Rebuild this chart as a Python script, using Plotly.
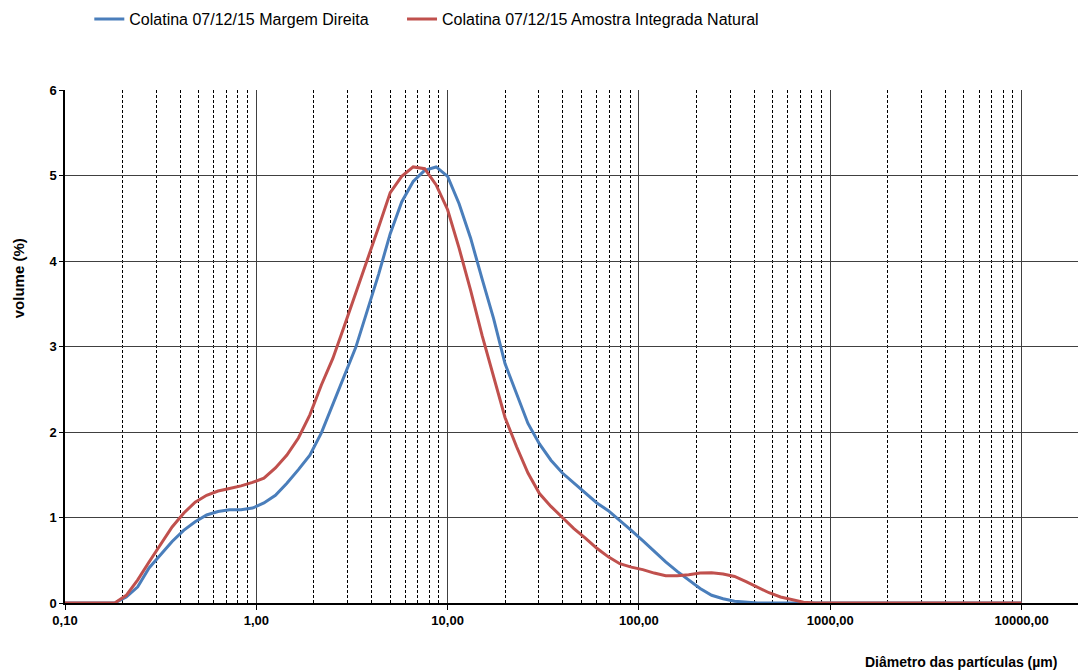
import plotly.graph_objects as go

# particle diameter (µm)
diam = [0.1, 0.158, 0.182, 0.209, 0.240, 0.275, 0.316, 0.363, 0.417, 0.479, 0.550,
        0.631, 0.724, 0.832, 0.955, 1.096, 1.259, 1.445, 1.660, 1.905, 2.188,
        2.512, 2.884, 3.311, 3.802, 4.365, 5.012, 5.754, 6.607, 7.586, 8.710,
        10.00, 11.48, 13.18, 15.14, 17.38, 19.95, 22.91, 26.30, 30.20, 34.67,
        39.81, 45.71, 52.48, 60.26, 69.18, 79.43, 91.20, 104.7, 120.2, 138.0,
        158.5, 182.0, 208.9, 239.9, 275.4, 316.2, 363.1, 416.9, 478.6, 549.5,
        631.0, 724.4, 831.8, 10000]

margem_direita = [0, 0, 0, 0.07, 0.19, 0.41, 0.56, 0.72, 0.85, 0.95, 1.03,
                  1.07, 1.09, 1.09, 1.11, 1.17, 1.26, 1.40, 1.56, 1.73, 1.99,
                  2.32, 2.65, 2.99, 3.42, 3.85, 4.32, 4.69, 4.93, 5.06, 5.10,
                  4.99, 4.67, 4.27, 3.79, 3.33, 2.80, 2.44, 2.10, 1.86, 1.67,
                  1.52, 1.40, 1.28, 1.17, 1.08, 0.97, 0.85, 0.73, 0.60, 0.48,
                  0.37, 0.27, 0.17, 0.09, 0.05, 0.02, 0.01, 0, 0, 0,
                  0, 0, 0, 0]

amostra_integrada = [0, 0, 0, 0.09, 0.27, 0.48, 0.68, 0.89, 1.05, 1.18, 1.26,
                     1.31, 1.34, 1.37, 1.41, 1.46, 1.58, 1.73, 1.93, 2.20, 2.55,
                     2.86, 3.24, 3.62, 4.01, 4.40, 4.80, 4.99, 5.10, 5.08, 4.89,
                     4.60, 4.15, 3.66, 3.13, 2.66, 2.17, 1.83, 1.52, 1.28, 1.13,
                     1.00, 0.87, 0.76, 0.64, 0.54, 0.46, 0.42, 0.39, 0.35, 0.32,
                     0.32, 0.33, 0.35, 0.355, 0.34, 0.31, 0.25, 0.18, 0.12, 0.07,
                     0.04, 0.01, 0, 0]

x_tickvals = [0.1, 1, 10, 100, 1000, 10000]
x_ticktext = ["0,10", "1,00", "10,00", "100,00", "1000,00", "10000,00"]
y_tickvals = [0, 1, 2, 3, 4, 5, 6]

FONT = "Liberation Sans, Arial, sans-serif"

fig = go.Figure()
fig.add_trace(go.Scatter(x=diam, y=margem_direita, mode="lines",
                         name="Colatina 07/12/15 Margem Direita",
                         line=dict(color="#4A7EBB", width=3), legend="legend"))
fig.add_trace(go.Scatter(x=diam, y=amostra_integrada, mode="lines",
                         name="Colatina 07/12/15 Amostra Integrada Natural",
                         line=dict(color="#C0504D", width=3), legend="legend2"))

legend_style = dict(orientation="h", xanchor="left", y=1.138, yanchor="middle",
                    font=dict(size=16, family=FONT, color="black"),
                    bgcolor="rgba(0,0,0,0)")

fig.update_layout(
    width=1078, height=670,
    margin=dict(l=65, r=0, t=90, b=67),
    paper_bgcolor="white", plot_bgcolor="white",
    font=dict(family=FONT, color="black"),
    showlegend=True,
    legend=dict(x=0.024, **legend_style),
    legend2=dict(x=0.3327, **legend_style),
    xaxis=dict(type="log", range=[-1, 4.295],
               tickvals=x_tickvals, ticktext=x_ticktext,
               tickfont=dict(size=13, family=FONT, weight="bold"),
               ticks="outside", ticklen=5, tickcolor="black",
               showline=True, linecolor="black", linewidth=1.5,
               showgrid=True, gridcolor="#404040", gridwidth=1,
               zeroline=False,
               minor=dict(dtick="D1", showgrid=True, gridcolor="black",
                          griddash="3px,2px", gridwidth=1, ticks="")),
    yaxis=dict(range=[0, 6], tickvals=y_tickvals,
               tickfont=dict(size=13, family=FONT, weight="bold"),
               ticks="outside", ticklen=4, tickcolor="black",
               showline=True, linecolor="black", linewidth=1.5,
               showgrid=True, gridcolor="#404040", gridwidth=1,
               zeroline=False),
    annotations=[
        dict(text="<b>volume (%)</b>", textangle=-90, xref="paper", yref="paper",
             x=-0.0464, y=0.633, xanchor="center", yanchor="middle",
             showarrow=False, font=dict(size=15, family=FONT, color="black")),
        dict(text="<b>Diâmetro das partículas (µm)</b>", xref="paper", yref="paper",
             x=0.8845, y=-0.115, xanchor="center", yanchor="middle",
             showarrow=False, font=dict(size=14, family=FONT, color="black")),
    ],
)

fig.write_html("out.html")
